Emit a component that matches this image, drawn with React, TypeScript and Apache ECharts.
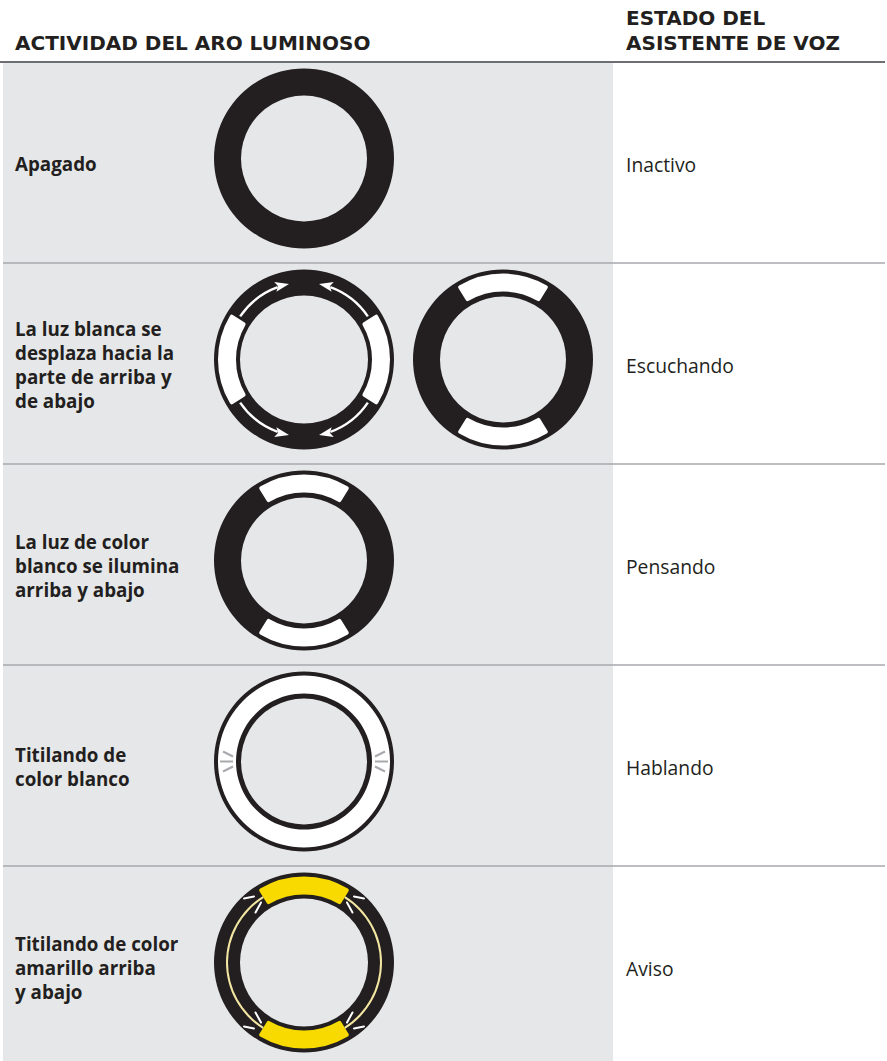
import React, { useEffect, useRef } from "react";
import * as echarts from "echarts";

// ---------- data ----------
const headerActivity = "ACTIVIDAD DEL ARO LUMINOSO";
const headerState = "ESTADO DEL\nASISTENTE DE VOZ";
const activityLabels = [
  "Apagado",
  "La luz blanca se\ndesplaza hacia la\nparte de arriba y\nde abajo",
  "La luz de color\nblanco se ilumina\narriba y abajo",
  "Titilando de\ncolor blanco",
  "Titilando de color\namarillo arriba\ny abajo",
];
const voiceStates = ["Inactivo", "Escuchando", "Pensando", "Hablando", "Aviso"];

// arc lengths (degrees) of the light ring, lit / unlit alternating
const arcFull = [360];
const arcSides = [64, 116, 64, 116]; // starts at 32°
const arcPoles = [64, 116, 64, 116]; // starts at 122°
const arcGlow = [64, 116, 64, 116]; // starts at 122°, thin glow between poles
// arrows on the "listening" ring: [from°, to°]
const arrowArcs = [
  [146, 102],
  [34, 78],
  [214, 258],
  [326, 282],
];

// ---------- style ----------
const DARK = "#231f20";
const GRAY_BG = "#e6e7e8";
const YELLOW = "#f8da00";
const CREAM = "#f3e6a2";
const TXT = "#231f20";
const NONE = "rgba(0,0,0,0)";

const W = 887;
const H = 1061;
const ROW_TOP = 62;
const ROW_H = 201;
const COL_X0 = 3;
const COL_X1 = 613;
const RING_X = 304;
const RING_X2 = 503;

function rowMid(i: number) {
  return ROW_TOP + ROW_H * i + 102;
}
function ringY(i: number) {
  return ROW_TOP + ROW_H * i + 96.5;
}

function pie(
  cx: number,
  cy: number,
  r0: number,
  r1: number,
  values: number[],
  colors: string[],
  startAngle = 90,
  radiusCorner = 0
) {
  return {
    type: "pie",
    center: [cx, cy],
    radius: [r0, r1],
    startAngle,
    clockwise: true,
    silent: true,
    label: { show: false },
    labelLine: { show: false },
    emphasis: { disabled: true, scale: false },
    itemStyle: { borderWidth: 0, borderRadius: radiusCorner },
    data: values.map((v, k) => ({
      value: v,
      itemStyle: { color: colors[k % colors.length] },
    })),
    z: 2,
  };
}

function arrowGraphics(cx: number, cy: number, r: number) {
  const els: any[] = [];
  arrowArcs.forEach(([a0, a1]) => {
    const dir = a1 > a0 ? 1 : -1; // math-angle direction of travel
    const tipA = (a1 * Math.PI) / 180;
    const tip = [cx + r * Math.cos(tipA), cy - r * Math.sin(tipA)];
    const d =
      dir > 0
        ? [-Math.sin(tipA), -Math.cos(tipA)]
        : [Math.sin(tipA), Math.cos(tipA)];
    const L = 13;
    const w = 10;
    const base = [tip[0] - d[0] * L, tip[1] - d[1] * L];
    const n = [-d[1], d[0]];
    els.push({
      type: "polygon",
      z: 20,
      shape: {
        points: [
          [tip[0] + d[0] * 1, tip[1] + d[1] * 1],
          [base[0] + (n[0] * w) / 2, base[1] + (n[1] * w) / 2],
          [base[0] + d[0] * 3, base[1] + d[1] * 3],
          [base[0] - (n[0] * w) / 2, base[1] - (n[1] * w) / 2],
        ],
      },
      style: { fill: "#fff" },
    });
    const endA = a1 - dir * 8;
    const s0 = (-a0 * Math.PI) / 180;
    const s1 = (-endA * Math.PI) / 180;
    els.push({
      type: "arc",
      z: 20,
      shape: {
        cx,
        cy,
        r,
        startAngle: Math.min(s0, s1),
        endAngle: Math.max(s0, s1),
        clockwise: true,
      },
      style: { stroke: "#fff", lineWidth: 2.4, fill: NONE },
    });
  });
  return els;
}

function markLines(
  cx: number,
  cy: number,
  segs: number[][],
  color: string,
  width: number
) {
  const els: any[] = [];
  for (const sx of [-1, 1]) {
    for (const sy of [-1, 1]) {
      segs.forEach(([x1, y1, x2, y2]) => {
        els.push({
          type: "line",
          z: 20,
          shape: { x1: cx + sx * x1, y1: cy + sy * y1, x2: cx + sx * x2, y2: cy + sy * y2 },
          style: { stroke: color, lineWidth: width, lineCap: "round" },
        });
      });
    }
  }
  return els;
}

export default function App() {
  const ref = useRef<HTMLDivElement>(null);
  useEffect(() => {
    document.body.style.margin = "0";
    const chart = echarts.init(ref.current!, null, { renderer: "svg" });

    const series: any[] = [];
    // row 0: off
    series.push(pie(RING_X, ringY(0), 63, 90, arcFull, [DARK]));
    // row 1: listening (two rings)
    series.push(pie(RING_X, ringY(1), 64, 90, arcFull, [DARK]));
    series.push(pie(RING_X, ringY(1), 68, 86, arcSides, ["#fff", NONE], 32, 2));
    series.push(pie(RING_X2, ringY(1), 63, 90, arcFull, [DARK]));
    series.push(pie(RING_X2, ringY(1), 68, 86, arcPoles, ["#fff", NONE], 122, 2));
    // row 2: thinking
    series.push(pie(RING_X, ringY(2), 63, 90, arcFull, [DARK]));
    series.push(pie(RING_X, ringY(2), 68, 86, arcPoles, ["#fff", NONE], 122, 2));
    // row 3: speaking (white ring)
    series.push(pie(RING_X, ringY(3), 63, 90, arcFull, [DARK]));
    series.push(pie(RING_X, ringY(3), 68, 86, arcFull, ["#fff"]));
    // row 4: notification (yellow)
    series.push(pie(RING_X, ringY(4), 64, 90, arcFull, [DARK]));
    series.push(pie(RING_X, ringY(4), 68, 86, arcPoles, [YELLOW, NONE], 122, 2));
    series.push(pie(RING_X, ringY(4), 76, 78, arcGlow, [NONE, CREAM], 122));

    const graphic: any[] = [];
    graphic.push({
      type: "rect",
      z: -10,
      shape: { x: COL_X0, y: ROW_TOP, width: COL_X1 - COL_X0, height: H - ROW_TOP },
      style: { fill: GRAY_BG },
    });
    graphic.push({
      type: "line",
      z: 5,
      shape: { x1: 0, y1: ROW_TOP, x2: 885, y2: ROW_TOP },
      style: { stroke: "#6d6e71", lineWidth: 2 },
    });
    for (let i = 1; i < activityLabels.length; i++) {
      const y = ROW_TOP + ROW_H * i;
      graphic.push({
        type: "line",
        z: 5,
        shape: { x1: COL_X0, y1: y, x2: 885, y2: y },
        style: { stroke: "#a7a9ac", lineWidth: 1.5 },
      });
    }
    // headers
    graphic.push({
      type: "text",
      z: 5,
      x: 15,
      y: 43,
      style: {
        text: headerActivity,
        fill: TXT,
        font: 'bold 20px "DejaVu Sans"',
        textAlign: "left",
        textVerticalAlign: "middle",
      },
    });
    graphic.push({
      type: "text",
      z: 5,
      x: 626,
      y: 30,
      style: {
        text: headerState,
        fill: TXT,
        font: 'bold 20px "DejaVu Sans"',
        lineHeight: 25,
        textAlign: "left",
        textVerticalAlign: "middle",
      },
    });
    activityLabels.forEach((t, i) => {
      graphic.push({
        type: "text",
        z: 5,
        x: 15,
        y: rowMid(i),
        style: {
          text: t,
          fill: TXT,
          font: 'bold 18.8px "Open Sans"',
          lineHeight: 24,
          textAlign: "left",
          textVerticalAlign: "middle",
        },
      });
    });
    voiceStates.forEach((t, i) => {
      graphic.push({
        type: "text",
        z: 5,
        x: 626,
        y: rowMid(i),
        style: {
          text: t,
          fill: TXT,
          font: '19.3px "Open Sans"',
          textAlign: "left",
          textVerticalAlign: "middle",
        },
      });
    });
    // arrows
    graphic.push(...arrowGraphics(RING_X, ringY(1), 77));
    // speaking marks (gray), left/right
    const sy3 = ringY(3);
    for (const sx of [-1, 1]) {
      [
        [-84, 0, -71, 0],
        [-81, -10, -71, -5],
        [-81, 10, -71, 5],
      ].forEach(([x1, y1, x2, y2]) => {
        graphic.push({
          type: "line",
          z: 20,
          shape: { x1: RING_X + sx * x1, y1: sy3 + y1, x2: RING_X + sx * x2, y2: sy3 + y2 },
          style: { stroke: "#a7a9ac", lineWidth: 2 },
        });
      });
    }
    // notification sparkle marks (white)
    graphic.push(
      ...markLines(
        RING_X,
        ringY(4),
        [
          [-60, -64, -50, -66],
          [-48.5, -50, -43, -60],
        ],
        "#fff",
        2
      )
    );

    chart.setOption({
      animation: false,
      backgroundColor: "#fff",
      series,
      graphic,
    });
    return () => chart.dispose();
  }, []);
  return <div ref={ref} style={{ width: W, height: H }} />;
}
